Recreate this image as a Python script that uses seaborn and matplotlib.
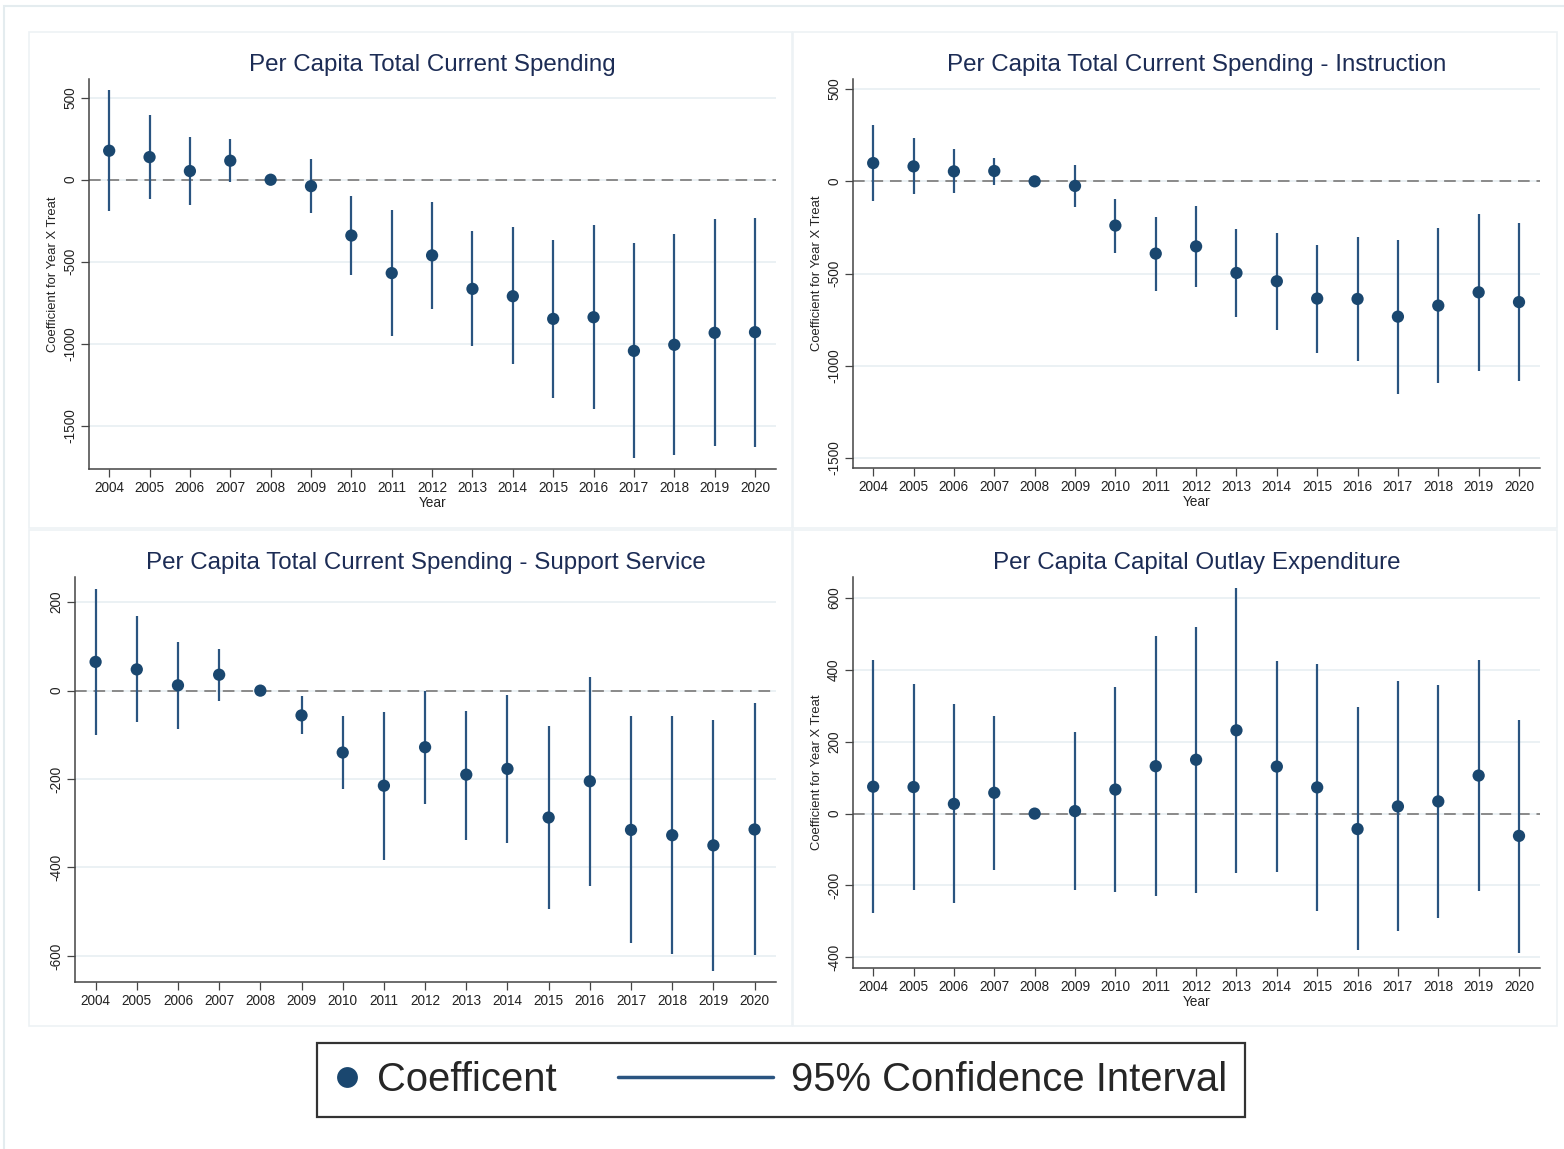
import numpy as np
import pandas as pd
import matplotlib
matplotlib.use("Agg")
import matplotlib.pyplot as plt
import seaborn as sns
from matplotlib.lines import Line2D
from matplotlib.patches import Rectangle
from matplotlib.legend_handler import HandlerLine2D

nan = np.nan
years = list(range(2004, 2021))

titles = [
    "Per Capita Total Current Spending",
    "Per Capita Total Current Spending - Instruction",
    "Per Capita Total Current Spending - Support Service",
    "Per Capita Capital Outlay Expenditure",
]

total_coef = [177, 138, 53, 116, 0, -39, -340, -569, -461, -665, -710, -848, -838, -1043, -1006, -933, -929]
total_lo = [-193, -118, -152, -16, nan, -203, -579, -955, -789, -1014, -1126, -1328, -1397, -1698, -1679, -1624, -1626]
total_hi = [549, 392, 258, 248, nan, 128, -102, -185, -138, -315, -289, -368, -276, -386, -329, -240, -232]

instr_coef = [99, 81, 54, 56, 0, -25, -240, -392, -353, -497, -542, -636, -638, -734, -674, -602, -655]
instr_lo = [-105, -69, -65, -18, nan, -139, -387, -593, -573, -734, -806, -929, -975, -1152, -1096, -1027, -1083]
instr_hi = [307, 233, 174, 128, nan, 89, -96, -193, -134, -258, -278, -345, -304, -316, -253, -179, -226]

support_coef = [65, 48, 12, 36, 0, -56, -140, -215, -128, -190, -177, -287, -205, -315, -327, -350, -314]
support_lo = [-100, -72, -86, -23, nan, -98, -222, -382, -257, -337, -344, -494, -441, -571, -595, -633, -599]
support_hi = [230, 168, 110, 95, nan, -13, -58, -48, 0, -45, -10, -81, 31, -58, -58, -67, -29]

capital_coef = [75, 74, 27, 58, 0, 7, 67, 132, 150, 232, 131, 73, -43, 20, 34, 106, -62]
capital_lo = [-276, -212, -248, -156, nan, -214, -217, -229, -220, -165, -163, -272, -380, -326, -290, -216, -389]
capital_hi = [429, 361, 304, 272, nan, 227, 352, 494, 520, 627, 426, 418, 297, 369, 358, 428, 261]

y_ticks = [
    [500, 0, -500, -1000, -1500],
    [500, 0, -500, -1000, -1500],
    [200, 0, -200, -400, -600],
    [600, 400, 200, 0, -200, -400],
]
y_limits = [(-1763, 614), (-1555, 555), (-659, 257), (-430, 659)]

panels = [
    (total_coef, total_lo, total_hi),
    (instr_coef, instr_lo, instr_hi),
    (support_coef, support_lo, support_hi),
    (capital_coef, capital_lo, capital_hi),
]
show_ylabel = [True, True, False, True]
show_xlabel = [True, True, False, True]

sns.set_theme(style="white")
plt.rcParams["font.family"] = ["Liberation Sans", "DejaVu Sans"]
plt.rcParams["axes.unicode_minus"] = False

W, H = 1564, 1149
fig = plt.figure(figsize=(W / 100, H / 100), dpi=100)
fig.patch.set_facecolor("white")

navy = "#1a476f"
ci_col = "#2a5480"
title_col = "#1c2c55"
grid_col = "#e9f0f3"
frame_col = "#e4ecef"


def frect(x0, y0, x1, y1, **kw):
    fig.patches.append(Rectangle((x0 / W, 1 - y1 / H), (x1 - x0) / W, (y1 - y0) / H,
                                 transform=fig.transFigure, fill=False, **kw))


frect(4, 6, 1570, 1160, edgecolor=frame_col, lw=1.5)
for (x0, y0, x1, y1) in [(29, 32, 792, 528), (793, 32, 1557, 528),
                         (29, 530, 792, 1026), (793, 530, 1557, 1026)]:
    frect(x0, y0, x1, y1, edgecolor="#edf2f5", lw=1.2)

boxes = [(89, 79, 776, 469), (853, 79, 1540, 468), (75, 577, 776, 982), (853, 577, 1540, 968)]

for i, (coef, lo, hi) in enumerate(panels):
    l, t, r, b = boxes[i]
    ax = fig.add_axes([l / W, 1 - b / H, (r - l) / W, (b - t) / H])
    ax.set_facecolor("white")
    df = pd.DataFrame({"year": years, "coef": coef, "lo": lo, "hi": hi})
    for yt in y_ticks[i]:
        ax.axhline(yt, color=grid_col, lw=1.3, zorder=0)
    ax.axhline(0, color="#8a8a8a", lw=1.4, ls=(0, (6, 3.5)), zorder=1)
    d = df.dropna()
    ax.vlines(d["year"], d["lo"], d["hi"], color=ci_col, lw=1.6, zorder=3)
    sns.scatterplot(data=df, x="year", y="coef", ax=ax, color=navy, s=78,
                    edgecolor="none", linewidth=0, zorder=4, legend=False)
    ax.set_xlim(2003.5, 2020.52)
    ax.set_ylim(*y_limits[i])
    ax.set_xticks(years)
    ax.set_xticklabels([str(y) for y in years], fontsize=9.8, color="#222222")
    ax.set_yticks(y_ticks[i])
    ax.set_yticklabels([str(v) for v in y_ticks[i]], fontsize=9.8, color="#222222",
                       rotation=90, va="center")
    for s in ["top", "right"]:
        ax.spines[s].set_visible(False)
    for s in ["left", "bottom"]:
        ax.spines[s].set_color("#444444")
        ax.spines[s].set_linewidth(1.1)
    ax.tick_params(axis="both", which="major", direction="out", length=5.5,
                   width=0.9, color="#444444", pad=3, left=True, bottom=True)
    ax.set_title(titles[i], fontsize=17.4, color=title_col, pad=6)
    if show_ylabel[i]:
        ax.set_ylabel("Coefficient for Year X Treat", fontsize=9.4, color="#222222", labelpad=3)
    else:
        ax.set_ylabel("")
    if show_xlabel[i]:
        ax.set_xlabel("Year", fontsize=9.8, color="#222222", labelpad=1)
    else:
        ax.set_xlabel("")
    ax.grid(False)


class LongLineHandler(HandlerLine2D):
    def __init__(self, extra, **kw):
        super().__init__(**kw)
        self.extra = extra

    def get_xdata(self, legend, xdescent, ydescent, width, height, fontsize):
        xd, xm = super().get_xdata(legend, xdescent, ydescent, width, height, fontsize)
        return [xd[0] - self.extra, xd[-1]], xm


h_coef = Line2D([], [], ls="none", marker="o", markersize=15, color=navy, markeredgewidth=0)
h_ci = Line2D([], [], color=ci_col, lw=2.5)
leg = fig.legend([h_coef, h_ci], ["Coefficent", "95% Confidence Interval"],
                 loc="upper left", bbox_to_anchor=(317 / W, 1 - 1043 / H),
                 ncol=2, fontsize=28.8, frameon=True, fancybox=False,
                 edgecolor="black", handlelength=0.6, handletextpad=0.45,
                 borderpad=0.45, borderaxespad=0, columnspacing=4.8,
                 handler_map={h_ci: LongLineHandler(extra=94)})
leg.get_frame().set_linewidth(1.6)

fig.savefig("out.png", dpi=100, facecolor="white")
